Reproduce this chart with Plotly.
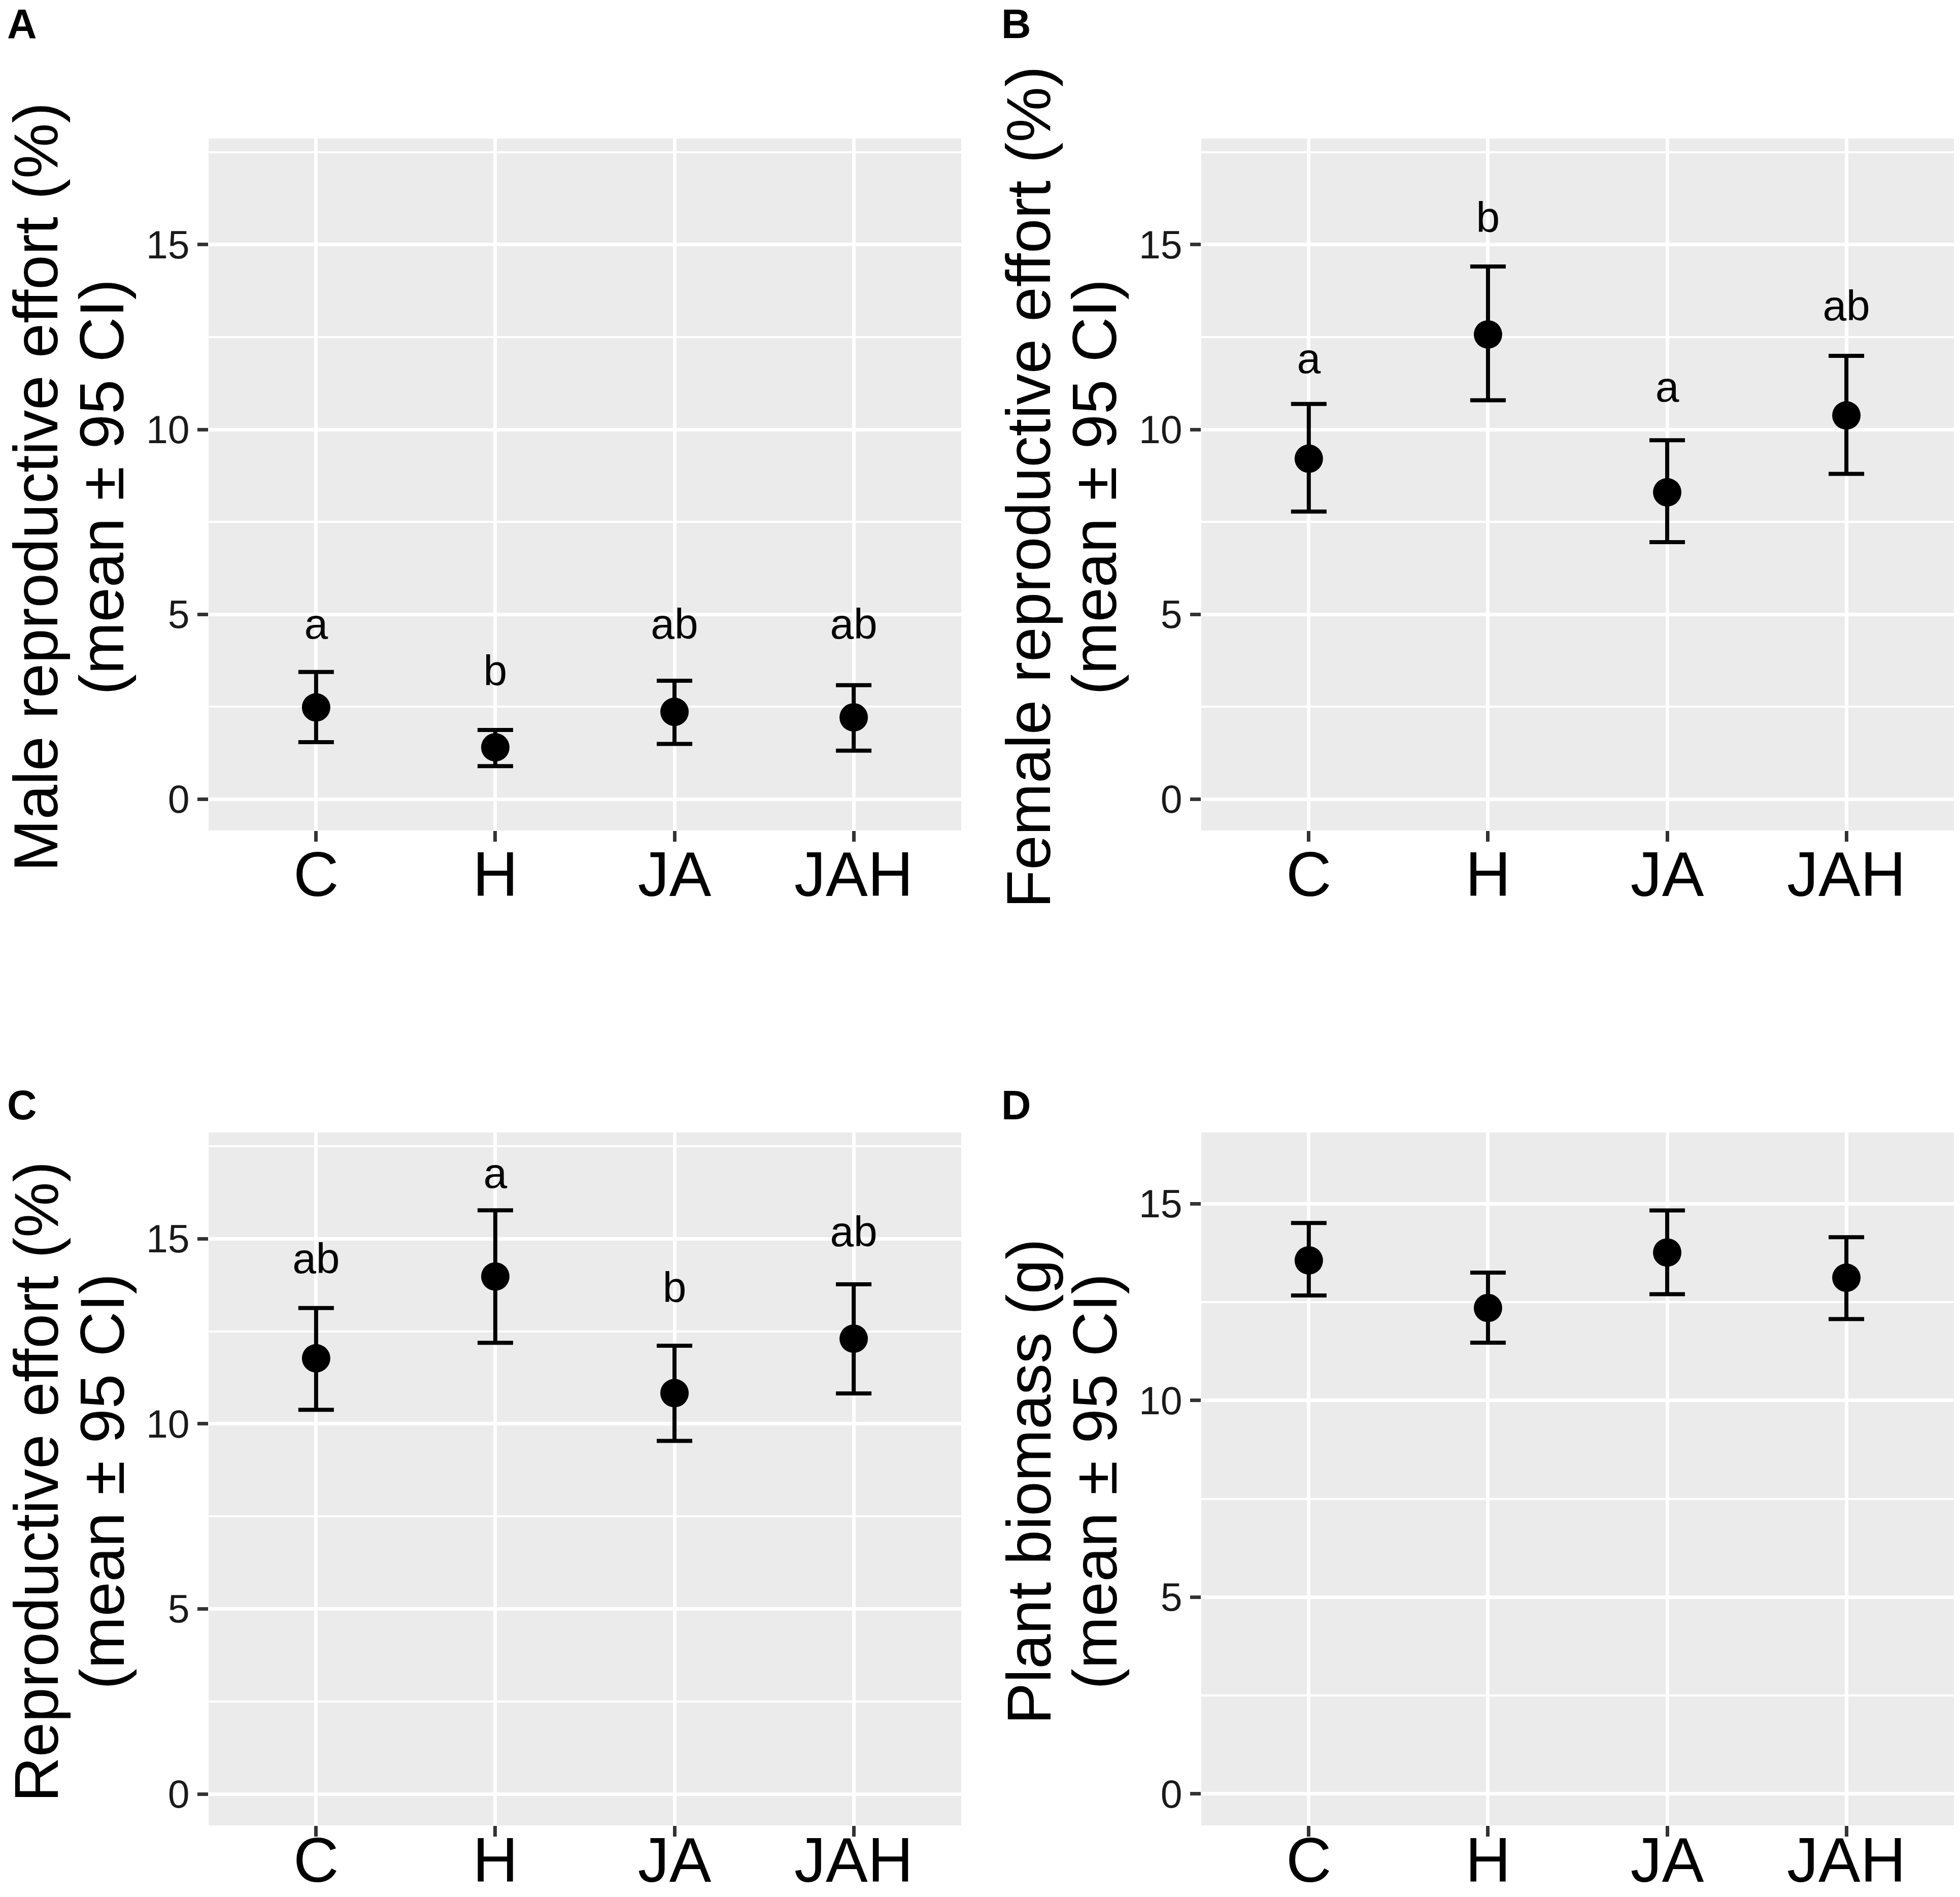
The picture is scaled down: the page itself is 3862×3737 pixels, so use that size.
import plotly.graph_objects as go

# ---------------- data ----------------
groups = ["C", "H", "JA", "JAH"]

male_mean = [2.48, 1.40, 2.36, 2.21]
male_upper = [3.44, 1.87, 3.20, 3.08]
male_lower = [1.54, 0.89, 1.49, 1.31]
male_letters = ["a", "b", "ab", "ab"]
male_letter_y = [4.63, 3.37, 4.63, 4.63]

female_mean = [9.21, 12.57, 8.30, 10.38]
female_upper = [10.69, 14.41, 9.71, 11.99]
female_lower = [7.78, 10.79, 6.95, 8.80]
female_letters = ["a", "b", "a", "ab"]
female_letter_y = [11.82, 15.63, 11.04, 13.24]

repro_mean = [11.77, 13.98, 10.83, 12.30]
repro_upper = [13.13, 15.77, 12.11, 13.77]
repro_lower = [10.38, 12.19, 9.54, 10.82]
repro_letters = ["ab", "a", "b", "ab"]
repro_letter_y = [14.36, 16.67, 13.58, 15.08]

biomass_mean = [13.56, 12.35, 13.76, 13.12]
biomass_upper = [14.51, 13.25, 14.83, 14.15]
biomass_lower = [12.67, 11.47, 12.70, 12.07]

y_tick_vals = [0, 5, 10, 15]
y_tick_text = ["0", "5", "10", "15"]

panel_labels = ["A", "B", "C", "D"]
title_line1 = ["Male reproductive effort (%)", "Female reproductive effort (%)",
               "Reproductive effort (%)", "Plant biomass (g)"]
title_line2 = ["(mean ± 95 CI)"] * 4

# ---------------- layout geometry ----------------
W, H = 3862, 3737
FONT = "Liberation Sans, Arial, sans-serif"

def px_x(v):
    return v / W

def px_y(v):
    return 1 - v / H

x_dom_left = [px_x(411), px_x(1894)]
x_dom_right = [px_x(2367), px_x(3850)]
y_dom_top = [px_y(1636), px_y(273)]
y_dom_bot = [px_y(3596), px_y(2231)]

panels = [
    dict(mean=male_mean, up=male_upper, lo=male_lower, letters=male_letters,
         ly=male_letter_y, xd=x_dom_left, yd=y_dom_top, yr=[-0.85, 17.87], so=-42),
    dict(mean=female_mean, up=female_upper, lo=female_lower, letters=female_letters,
         ly=female_letter_y, xd=x_dom_right, yd=y_dom_top, yr=[-0.85, 17.87], so=-42),
    dict(mean=repro_mean, up=repro_upper, lo=repro_lower, letters=repro_letters,
         ly=repro_letter_y, xd=x_dom_left, yd=y_dom_bot, yr=[-0.85, 17.87], so=-60),
    dict(mean=biomass_mean, up=biomass_upper, lo=biomass_lower, letters=None,
         ly=None, xd=x_dom_right, yd=y_dom_bot, yr=[-0.80, 16.81], so=-60),
]

fig = go.Figure()
layout_axes = {}
annotations = []

label_pos = [(12, 0), (1971, 0), (12, 2130), (1971, 2130)]
title_x1 = [71, 71 + 1956, 71, 71 + 1956]
title_x2 = [201, 201 + 1956, 201, 201 + 1956]
title_yc = [960, 960, 2919, 2919]

for i, p in enumerate(panels):
    n = "" if i == 0 else str(i + 1)
    xa, ya = "x" + n, "y" + n
    err_plus = [u - m for u, m in zip(p["up"], p["mean"])]
    err_minus = [m - l for m, l in zip(p["mean"], p["lo"])]
    fig.add_trace(go.Scatter(
        x=groups, y=p["mean"], mode="markers", xaxis=xa, yaxis=ya,
        marker=dict(size=56, color="black", line=dict(width=0)),
        error_y=dict(type="data", symmetric=False, array=err_plus,
                     arrayminus=err_minus, color="black", thickness=8, width=35),
        showlegend=False, hoverinfo="skip"))
    if p["letters"]:
        fig.add_trace(go.Scatter(
            x=groups, y=p["ly"], mode="text", text=p["letters"], xaxis=xa, yaxis=ya,
            textposition="middle center",
            textfont=dict(size=84, color="black", family=FONT),
            showlegend=False, hoverinfo="skip"))

    layout_axes["xaxis" + n] = dict(
        domain=p["xd"], anchor=ya, type="category", automargin=False,
        categoryorder="array", categoryarray=groups, range=[-0.6, 3.6],
        showgrid=True, gridcolor="white", gridwidth=7,
        ticks="outside", ticklen=21, tickwidth=7, tickcolor="#333333",
        ticklabelstandoff=p["so"],
        tickfont=dict(size=124, color="black", family=FONT),
        zeroline=False, showline=False, fixedrange=True)
    layout_axes["yaxis" + n] = dict(
        domain=p["yd"], anchor=xa, range=p["yr"], automargin=False,
        tickmode="array", tickvals=y_tick_vals, ticktext=y_tick_text,
        showgrid=True, gridcolor="white", gridwidth=7,
        minor=dict(tickmode="linear", tick0=0, dtick=2.5, showgrid=True,
                   gridcolor="white", gridwidth=3.5, ticks=""),
        ticks="outside", ticklen=21, tickwidth=7, tickcolor="#333333",
        tickfont=dict(size=77, color="#1a1a1a", family=FONT),
        zeroline=False, showline=False, fixedrange=True)

    lx, ly = label_pos[i]
    annotations.append(dict(
        text="<b>" + panel_labels[i] + "</b>", xref="paper", yref="paper",
        x=px_x(lx), y=px_y(ly), xanchor="left", yanchor="top",
        showarrow=False, font=dict(size=81, color="black", family=FONT)))
    annotations.append(dict(
        text=title_line1[i], xref="paper", yref="paper",
        x=px_x(title_x1[i]), y=px_y(title_yc[i]), xanchor="center", yanchor="middle",
        textangle=-90, showarrow=False, font=dict(size=123, color="black", family=FONT)))
    annotations.append(dict(
        text=title_line2[i], xref="paper", yref="paper",
        x=px_x(title_x2[i]), y=px_y(title_yc[i]), xanchor="center", yanchor="middle",
        textangle=-90, showarrow=False, font=dict(size=123, color="black", family=FONT)))

fig.update_layout(
    template="none",
    width=W, height=H, margin=dict(l=0, r=0, t=0, b=0, autoexpand=False),
    paper_bgcolor="white", plot_bgcolor="#EBEBEB",
    font=dict(family=FONT, color="black"),
    annotations=annotations, showlegend=False, **layout_axes)

fig.write_html("out.html", config={"displayModeBar": False},
               post_script="document.body.style.margin='0px';document.body.style.overflow='hidden';")
